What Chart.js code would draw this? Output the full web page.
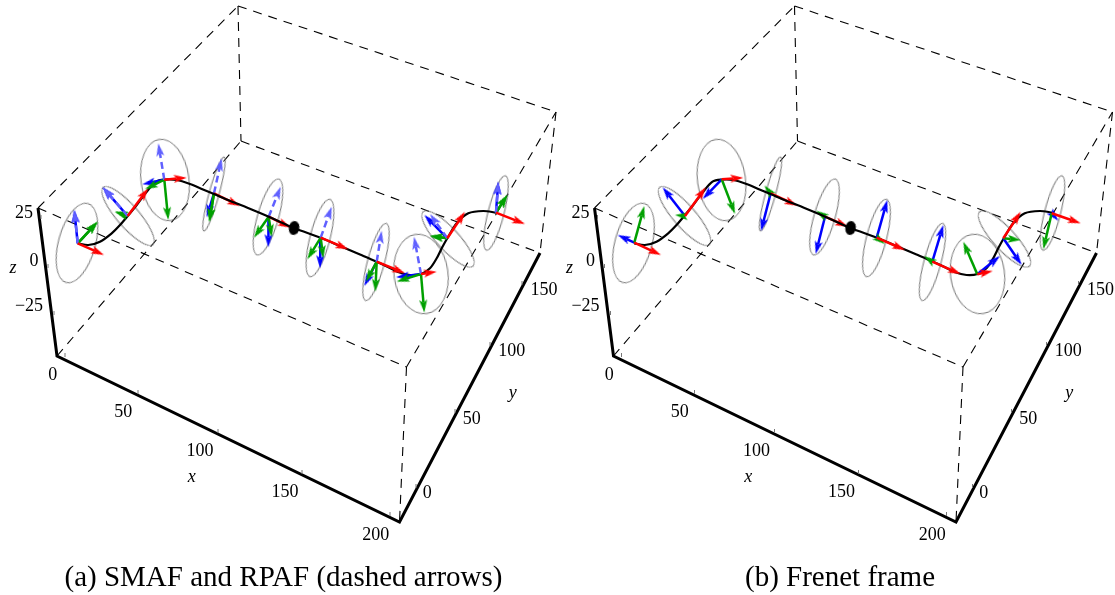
<!DOCTYPE html>
<html>
<head>
<meta charset="utf-8">
<style>
  html, body { margin: 0; padding: 0; background: #fff; }
  canvas { display: block; }
</style>
<script src="https://cdn.jsdelivr.net/npm/chart.js@4/dist/chart.umd.js"></script>
</head>
<body>
<canvas id="frames" width="1115" height="595"></canvas>
<script>
const panelOffset = 556.5;

const boxEdges = [
  [38, 208, 238, 6], [238, 6, 556, 112], [238, 6, 241, 141],
  [57, 356, 241, 141], [241, 141, 540, 253], [38, 208, 406.5, 367],
  [406.5, 367, 556, 112], [556, 112, 540, 253], [406.5, 367, 399.5, 522]
];
const thickAxes = [[38, 208], [57, 356], [399.5, 522], [540, 253]];
const tickMarks = [
  [65, 355], [138, 392], [218, 431], [302, 472], [390, 514],
  [416, 486], [455, 411], [490, 344], [522, 283],
  [41, 217], [48, 266], [54, 313]
];

const curveX = [77.7, 88.3, 100, 111.7, 120, 127.7, 136.7, 146.7, 156, 164.3, 176.7, 190, 203, 214, 228, 248, 268.7, 294, 320.7, 340, 360, 376.7, 388, 398, 410, 421, 430, 436.7, 441.7, 447.3, 456.7, 468.3, 483.3, 496];
const curveY = [243.3, 245, 241.7, 233.3, 225, 216, 205, 191.7, 181.7, 179.7, 180, 184, 189.5, 194, 200, 208, 216.7, 228, 237.7, 246, 254.5, 261.7, 267, 272, 275, 274, 268.3, 258.3, 248.3, 238.3, 223.3, 213.3, 211, 212.7];
const startPoint = [294, 228];

// cx, cy, long half axis, short half axis, turn in degrees
const circles = [
  [77, 243, 41, 18.5, -74.7], [128, 216, 38, 11, 49], [165, 180, 41, 24, 82],
  [214, 194, 38.5, 5, -74.7], [268, 217, 39.5, 10.5, -74], [320, 238, 40, 10, -75.5],
  [376, 262, 40, 8.5, -75], [421, 274, 40, 27, 82], [448, 239, 37, 11, 47.5],
  [496, 213, 38.5, 8, -75.7]
];

// SMAF + RPAF frames (left)
const basesA = [[77.7, 243.3], [127.7, 216], [164.3, 179.7], [214, 193.3], [268.7, 216.7], [320.7, 237.7], [376.7, 261.7], [421, 274], [447.3, 238.3], [496, 212.7]];
const redA = [[104, 255], [148.3, 188.3], [186.7, 177.7], [240, 206], [290.7, 227.7], [348.3, 249.3], [405, 273.3], [436.7, 271.7], [465, 211.7], [525, 224]];
const greenA = [[97.7, 221.7], [115, 211.7], [168.3, 220], [209.3, 221.7], [254, 237.7], [307.3, 259.3], [375.3, 291.7], [424.3, 312.7], [430, 236], [507.3, 195]];
const blueA = [[74.3, 210], [102.7, 187.3], [142.3, 184.3], [206.7, 217.3], [268.3, 247.3], [320, 268.3], [364.3, 286], [396, 277.3], [424.3, 215], [498.3, 181.7]];
const rpafGreenA = [[97.7, 221.7], [115, 211.7], [145, 189.3], [209.3, 221.7], [271.7, 237], [323.3, 258.3], [366, 281.7], [396.7, 281.7], [430, 236], [507.3, 195]];
const rpafBlueA = [[74.3, 210], [102.7, 187.3], [158.3, 143.3], [221.7, 158.3], [280.7, 186.7], [331.7, 206.7], [381.7, 230.7], [414, 236.7], [430, 214], [498.3, 181.7]];

// Frenet frames (right)
const basesB = [[634.3, 242.7], [685, 216], [721.7, 179.3], [770.7, 193.3], [825, 216.7], [876.7, 237.7], [932.3, 261.7], [977.3, 274.3], [1003.3, 238.3], [1051.7, 213.3]];
const redB = [[661, 255], [705.7, 187.3], [743.3, 177.7], [797.3, 205.7], [848, 226.7], [905, 250], [960.7, 274], [992.7, 271], [1020.7, 211.7], [1080.7, 223.3]];
const greenB = [[644.3, 206], [675, 215], [735, 214], [766.7, 188.3], [816, 210.7], [885, 244], [927.3, 258.3], [963.3, 241.7], [1020.7, 240], [1043.3, 249.3]];
const blueB = [[617.7, 235], [662.7, 187.3], [702.7, 199], [761, 231], [815.7, 254], [887.3, 200], [943.3, 225], [1000, 256], [1021.7, 265], [1058.3, 220.7]];

const tickLabels = ['0', '50', '100', '150', '200', '0', '50', '100', '150', '25', '0', '\u221225'];
const tickLabelPos = [[52.7, 375], [123.3, 412.7], [200, 451], [285, 492.3], [375.7, 535.7], [427.3, 493.3], [471.7, 419], [511.7, 351.7], [544, 290], [24, 213], [34, 261], [29, 306]];
const axisNames = ['x', 'y', 'z'];
const axisNamePos = [[191.7, 477], [512.7, 393], [13, 268]];
const captions = ['(a) SMAF and RPAF (dashed arrows)', '(b) Frenet frame'];
const captionPos = [[64.5, 578], [745, 578]];

const RED = '#ff0000', GREEN = '#00a000', BLUE = '#0000ff', PALE = '#6060ff';
const SERIF = '"Liberation Serif", serif';

// arrow head, centred on the end of the shaft
function headIcon(color) {
  const c = document.createElement('canvas');
  c.width = 28; c.height = 12;
  const g = c.getContext('2d');
  g.fillStyle = color;
  g.beginPath();
  g.moveTo(24, 6); g.lineTo(11, 2); g.lineTo(14, 6); g.lineTo(11, 10);
  g.closePath();
  g.fill();
  return c;
}

function ellipseIcon(a, b, stroke, fill) {
  const c = document.createElement('canvas');
  c.width = Math.ceil(a * 2 + 4); c.height = Math.ceil(b * 2 + 4);
  const g = c.getContext('2d');
  g.beginPath();
  g.ellipse(c.width / 2, c.height / 2, a, b, 0, 0, Math.PI * 2);
  if (fill) { g.fillStyle = fill; g.fill(); }
  if (stroke) { g.strokeStyle = stroke; g.lineWidth = 0.9; g.stroke(); }
  return c;
}

const layers = [];

function addLine(points, color, width, dash) {
  layers.push({
    data: points.map(p => ({ x: p[0], y: p[1] })),
    showLine: true, borderColor: color, borderWidth: width,
    borderDash: dash || [], pointRadius: 0, tension: 0
  });
}

function addArrow(from, to, color, dash) {
  const dx = to[0] - from[0], dy = to[1] - from[1];
  const len = Math.hypot(dx, dy);
  const k = Math.max(len - 10, 0) / len;
  const neck = { x: from[0] + dx * k, y: from[1] + dy * k };
  layers.push({
    data: [{ x: from[0], y: from[1] }, neck],
    showLine: true, borderColor: color, borderWidth: 2.5, borderDash: dash || [],
    tension: 0, pointRadius: [0, 1], pointStyle: headIcon(color),
    pointRotation: Math.atan2(dy, dx) * 180 / Math.PI
  });
}

function addPanel(dx, frames) {
  boxEdges.forEach(e => addLine([[e[0] + dx, e[1]], [e[2] + dx, e[3]]], '#000', 1.1, [9, 7]));

  circles.forEach(c => layers.push({
    data: [{ x: c[0] + dx, y: c[1] }],
    pointStyle: ellipseIcon(c[2], c[3], '#666'), pointRadius: 1, pointRotation: c[4]
  }));

  // frames 3 and 4 sit behind the curve
  [3, 4].forEach(frames);

  layers.push({
    data: curveX.map((x, i) => ({ x: x + dx, y: curveY[i] })),
    showLine: true, borderColor: '#000', borderWidth: 2.2, tension: 0.3, pointRadius: 0
  });

  [0, 1, 2, 5, 6, 7, 8, 9].forEach(frames);

  layers.push({
    data: [{ x: startPoint[0] + dx, y: startPoint[1] }],
    pointStyle: ellipseIcon(7, 5.2, null, '#000'), pointRadius: 1, pointRotation: -80
  });

  addLine(thickAxes.map(p => [p[0] + dx, p[1]]), '#000', 3);
  layers.push({
    data: tickMarks.map(p => ({ x: p[0] + dx, y: p[1] })),
    pointStyle: 'line', pointRadius: 2, borderColor: '#777', borderWidth: 1, pointRotation: 90
  });
}

addPanel(0, i => {
  addArrow(basesA[i], blueA[i], BLUE);
  addArrow(basesA[i], greenA[i], GREEN);
  addArrow(basesA[i], rpafGreenA[i], GREEN);
  addArrow(basesA[i], rpafBlueA[i], PALE, [7, 4]);
  addArrow(basesA[i], redA[i], RED);
});

addPanel(panelOffset, i => {
  addArrow(basesB[i], blueB[i], BLUE);
  addArrow(basesB[i], greenB[i], GREEN);
  addArrow(basesB[i], redB[i], RED);
});

// first dataset is painted last in Chart.js, so order follows the push order backwards
layers.forEach((d, i) => { d.order = layers.length - i; });

const textPlugin = {
  id: 'pictureText',
  afterDraw(chart) {
    const { ctx, scales: { x, y } } = chart;
    const put = (t, p, dx) => ctx.fillText(t, x.getPixelForValue(p[0] + dx), y.getPixelForValue(p[1]));
    ctx.save();
    ctx.fillStyle = '#000';
    ctx.textBaseline = 'middle';
    ctx.textAlign = 'center';
    [0, panelOffset].forEach(dx => {
      ctx.font = '18px ' + SERIF;
      tickLabels.forEach((t, i) => put(t, tickLabelPos[i], dx));
      ctx.font = 'italic 18px ' + SERIF;
      axisNames.forEach((t, i) => put(t, axisNamePos[i], dx));
    });
    ctx.font = '29px ' + SERIF;
    ctx.textAlign = 'left';
    captions.forEach((t, i) => put(t, captionPos[i], 0));
    ctx.restore();
  }
};

new Chart(document.getElementById('frames'), {
  type: 'scatter',
  data: { datasets: layers },
  options: {
    responsive: false,
    animation: false,
    layout: { padding: 0, autoPadding: false },
    plugins: { legend: { display: false }, tooltip: { enabled: false } },
    scales: {
      x: { type: 'linear', min: 0, max: 1115, display: false },
      y: { type: 'linear', min: 0, max: 595, reverse: true, display: false }
    }
  },
  plugins: [textPlugin]
});
</script>
</body>
</html>
